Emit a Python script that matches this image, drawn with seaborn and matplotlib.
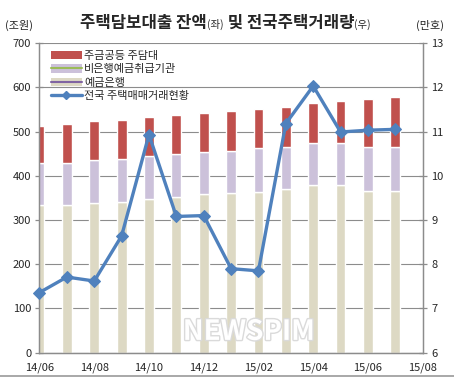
import numpy as np
import pandas as pd
import seaborn as sns
import matplotlib
matplotlib.use("Agg")
import matplotlib.pyplot as plt
from matplotlib.patches import Patch
from matplotlib.lines import Line2D
from matplotlib.legend_handler import HandlerTuple
from matplotlib.offsetbox import TextArea, HPacker, AnchoredOffsetbox
import matplotlib.patheffects as pe

# monthly data, 14/06 .. 15/07
months = ['14/06', '14/07', '14/08', '14/09', '14/10', '14/11', '14/12',
          '15/01', '15/02', '15/03', '15/04', '15/05', '15/06', '15/07']
bank = [334, 334, 338, 341, 347, 353, 359, 360, 364, 369, 379, 378, 366, 366]      # 예금은행
nonbank = [94, 96, 98, 96, 98, 96, 95, 96, 98, 95, 94, 95, 100, 98]                 # 비은행예금취급기관
hf = [84, 88, 87, 88, 87, 88, 88, 90, 88, 91, 91, 95, 107, 115]                     # 주금공등 주담대
trades = [7.36, 7.71, 7.62, 8.64, 10.93, 9.08, 9.10, 7.90, 7.85, 11.18, 12.03, 10.99, 11.03, 11.05]

xtick_labels = ['14/06', '14/08', '14/10', '14/12', '15/02', '15/04', '15/06', '15/08']

c_bank = '#DDD9C4'
c_nonbank = '#CCC1DA'
c_hf = '#C0504D'
c_line = '#4F81BD'
c_grid = '#8C8C8C'

sns.set_style("white")
plt.rcParams['font.family'] = ['Noto Sans CJK KR', 'DejaVu Sans']

fig = plt.figure(figsize=(4.54, 3.78), dpi=100)
ax = fig.add_axes([0.087, 0.067, 0.844, 0.819])

df = pd.DataFrame({'month': months, 'bank': bank, 'nonbank': nonbank, 'hf': hf, 'trades': trades})
df['x'] = np.arange(len(df))

w = 0.36
ax.bar(df.x, df.bank, width=w, color=c_bank, zorder=2)
ax.bar(df.x, df.nonbank, width=w, bottom=df.bank, color=c_nonbank, zorder=2)
ax.bar(df.x, df.hf, width=w, bottom=df.bank + df.nonbank, color=c_hf, zorder=2)

ax.set_xlim(0, 14)
ax.set_ylim(0, 700)
ax.set_yticks(range(0, 701, 100))
ax.set_xticks(range(0, 15, 2))
ax.set_xticklabels(xtick_labels)
ax.yaxis.grid(True, color=c_grid, lw=0.8)
ax.set_axisbelow(True)

ax2 = ax.twinx()
sns.lineplot(data=df, x='x', y='trades', ax=ax2, color=c_line, lw=2.4,
             marker='D', markersize=6, markeredgecolor=c_line, clip_on=False, zorder=5)
ax2.set_ylim(6, 13)
ax2.set_yticks(range(6, 14))
ax2.set_xlim(0, 14)
ax2.set_xlabel('')
ax2.set_ylabel('')
ax.set_xlabel('')
ax.set_ylabel('')

for a in (ax, ax2):
    for s in ['left', 'right', 'bottom']:
        a.spines[s].set_color(c_grid)
        a.spines[s].set_linewidth(0.9)
    a.spines['top'].set_visible(False)
    a.tick_params(axis='both', labelsize=8, color=c_grid, length=4, width=0.9, pad=3)
ax.tick_params(axis='y', direction='inout', length=6)
ax2.tick_params(axis='y', direction='inout', length=6)
ax.tick_params(axis='x', direction='out', length=4)

# legend
h_hf = Patch(facecolor=c_hf, edgecolor='none')
h_nb = (Patch(facecolor=c_nonbank, edgecolor='none'), Line2D([], [], color='#9BBB59', lw=1.5))
h_bk = (Patch(facecolor=c_bank, edgecolor='none'), Line2D([], [], color='#8064A2', lw=1.5))
h_ln = Line2D([], [], color=c_line, lw=2.4, marker='D', markersize=4)
ax.legend([h_hf, h_nb, h_bk, h_ln],
          ['주금공등 주담대', '비은행예금취급기관', '예금은행', '전국 주택매매거래현황'],
          handler_map={tuple: HandlerTuple(ndivide=1, pad=0)},
          loc='upper left', bbox_to_anchor=(0.112, 0.866), bbox_transform=fig.transFigure,
          frameon=False, fontsize=8, handlelength=2.8, handleheight=0.8,
          handletextpad=0.2, labelspacing=0.3, borderaxespad=0, borderpad=0)

# title with smaller (좌) / (우)
parts = [TextArea('주택담보대출 잔액', textprops=dict(fontsize=12, fontweight='bold')),
         TextArea('(좌)', textprops=dict(fontsize=7.5)),
         TextArea(' 및 전국주택거래량', textprops=dict(fontsize=12, fontweight='bold')),
         TextArea('(우)', textprops=dict(fontsize=7.5))]
box = HPacker(children=parts, align='baseline', pad=0, sep=0)
anchored = AnchoredOffsetbox(loc='center', child=box, pad=0, frameon=False,
                             bbox_to_anchor=(0.497, 0.94), bbox_transform=fig.transFigure,
                             borderpad=0)
fig.add_artist(anchored)

fig.text(0.042, 0.933, '(조원)', fontsize=8, ha='center', va='center')
fig.text(0.948, 0.933, '(만호)', fontsize=8, ha='center', va='center')

# watermark
fig.text(0.548, 0.122, 'NEWSPIM', fontsize=20, fontweight='bold', color='white',
         ha='center', va='center', zorder=10,
         path_effects=[pe.withStroke(linewidth=2, foreground='#DADADA')])

fig.add_artist(Line2D([0, 1], [0.004, 0.004], color='#9A9A9A', lw=1.2,
                      transform=fig.transFigure))

fig.savefig('out.png', dpi=100)
